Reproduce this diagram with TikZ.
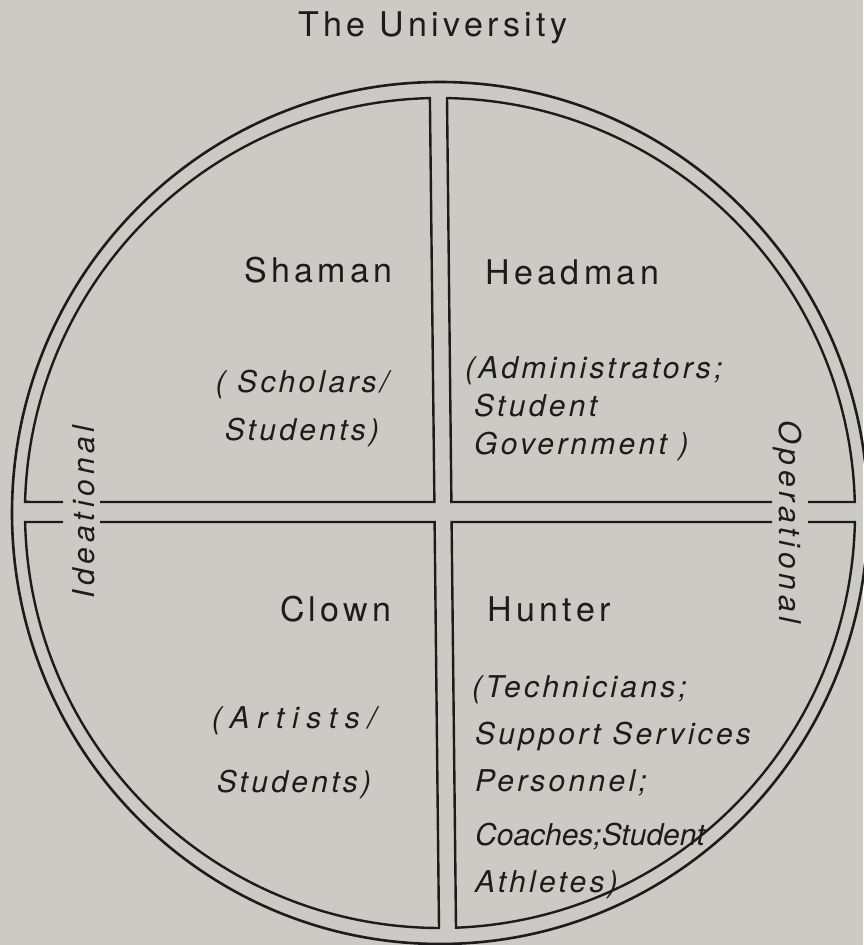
\documentclass[tikz,border=0pt]{standalone}
\usepackage{fontspec}
\setmainfont{TeX Gyre Heros}
\newfontfamily\lettering[LetterSpace=13]{TeX Gyre Heros}
\newfontfamily\slantlettering[LetterSpace=11]{TeX Gyre Heros}
\newfontfamily\sidelettering[LetterSpace=16]{TeX Gyre Heros}
\definecolor{paper}{RGB}{203,202,196}
\definecolor{ink}{RGB}{28,28,28}

\begin{document}
\begin{tikzpicture}[x=1pt, y=1pt,
    wall/.style={draw=ink, line width=2.4pt},
    rolename/.style={font=\lettering\fontsize{34}{40}\selectfont,
                     text=ink, inner sep=0pt},
    roster/.style={font=\slantlettering\itshape\fontsize{30}{#1}\selectfont,
                   text=ink, inner sep=0pt, align=left},
    flank/.style={font=\sidelettering\itshape\fontsize{30}{36}\selectfont,
                  text=ink, inner sep=0pt}]
% PAPER
\path[use as bounding box, fill=paper] (0,0) rectangle (863,945);
\coordinate (hub) at (440,432);

% RIM
\draw[wall, line width=2.6pt] (hub) ellipse [x radius=428, y radius=431];

% QUADRANTS (inner rim, cut by the two channels)
\draw[wall] (100,443) -- (434.4,443) -- (429.9,846.9)
   arc[start angle=91.38, end angle=178.48, radius=415] -- (63,443);
\draw[wall] (772,443) -- (451.4,443) -- (447,846.9)
   arc[start angle=89.03, end angle=1.52, radius=415] -- (808,443);
\draw[wall] (100,423) -- (434.6,423) -- (439,17)
   arc[start angle=269.86, end angle=181.24, radius=415] -- (63,423);
\draw[wall] (772,423) -- (451.6,423) -- (456,17.3)
   arc[start angle=272.21, end angle=358.76, radius=415] -- (808,423);

% HEADINGS
\node[rolename, anchor=base] (univ) at (433,908) {The University};
\node[rolename, anchor=base east] (shaman) at (393,662) {Shaman};
\node[rolename, anchor=base west] (headman) at (485,660) {Headman};
\node[rolename, anchor=base east] (clown) at (392,323) {Clown};
\node[rolename, anchor=base west] (hunter) at (487,323) {Hunter};

% MEMBERS
\node[roster=48, align=center, anchor=north] (scholars) at (302,575)
   {( Scholars/\\Students)};
\node[roster=38, anchor=north west] (admins) at (465,589)
   {(Administrators;\\\hspace*{9pt}Student\\\hspace*{9pt}Government )};
\node[roster=64, align=center, anchor=north] (artists) at (294,239)
   {{\addfontfeature{LetterSpace=26}(Artists/}\\Students)};
\node[roster=47, anchor=north west] (techs) at (472,270)
   {(Technicians;\\\hspace*{3pt}Support Services\\\hspace*{3pt}Personnel;\\[7pt]
    \hspace*{3pt}{\addfontfeature{LetterSpace=0}Coaches;Student}\\\hspace*{3pt}Athletes)};

% AXES
\node[flank, rotate=90, anchor=base] (ideational) at (94,433) {Ideational};
\node[flank, rotate=-90, anchor=base] (operational) at (779,423) {Operational};

\end{tikzpicture}
\end{document}
